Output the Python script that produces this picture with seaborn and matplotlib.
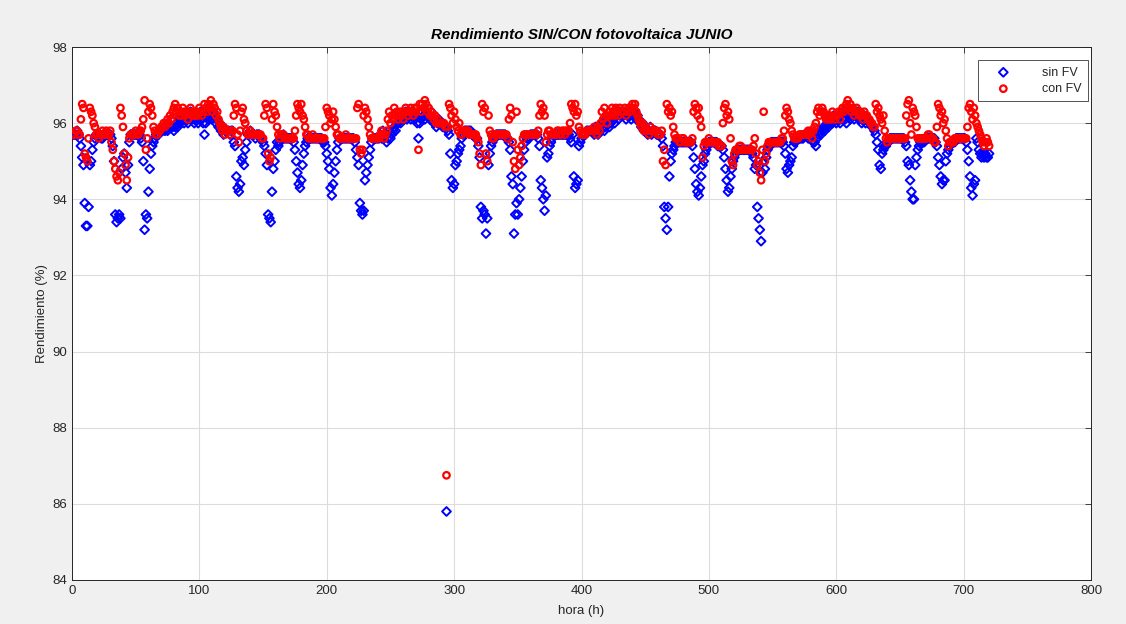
import numpy as np
import pandas as pd
import matplotlib
matplotlib.use("Agg")
import matplotlib.pyplot as plt
import seaborn as sns

# ------------------------------------------------------------
# Hourly efficiency values for June (30 days x 24 h)
# ------------------------------------------------------------
sin_fv_days = [
    [95.7,95.7,95.7,95.8,95.7,95.6, 95.4,95.1,94.9,93.9,93.3,93.3, 93.8,94.9,95.0,95.3,95.5, 95.6,95.7,95.7,95.7,95.7,95.6,95.6],
    [95.7,95.7,95.7,95.7,95.7,95.7, 95.6,95.4,95.0,93.6,93.4,93.5, 93.6,93.5,94.8,95.1,95.2, 94.7,94.3,94.9,95.5,95.7,95.7,95.7],
    [95.7,95.7,95.7,95.7,95.7,95.6, 95.5,95.0,93.2,93.6,93.5,94.2, 94.8,95.2,95.4,95.5,95.6, 95.7,95.7,95.7,95.8,95.8,95.8,95.9],
    [95.8,95.9,95.8,96.0,95.9,96.1, 95.9,95.8,95.9,96.0,95.9,96.1, 96.0,96.2,96.1,96.0,96.1, 96.2,96.0,96.2,96.3,96.1,96.2,96.0],
    [96.1,96.2,96.0,96.2,96.3,96.1, 96.0,95.7,96.0,96.2,96.1,96.3, 96.2,96.1,96.3,96.2,96.0, 96.1,95.9,96.0,95.8,95.9,95.7,95.8],
    [95.8,95.8,95.8,95.7,95.8,95.8, 95.5,95.4,94.6,94.3,94.2,94.4, 95.0,95.1,94.9,95.3,95.5, 95.7,95.7,95.8,95.7,95.7,95.7,95.6],
    [95.7,95.7,95.7,95.6,95.6,95.5, 95.4,95.2,94.9,93.6,93.5,93.4, 94.2,94.8,95.0,95.3,95.5, 95.4,95.5,95.6,95.6,95.7,95.6,95.6],
    [95.6,95.6,95.6,95.6,95.6,95.5, 95.3,95.0,94.7,94.4,94.3,94.5, 94.9,95.2,95.4,95.5,95.6, 95.6,95.6,95.6,95.6,95.6,95.6,95.6],
    [95.6,95.6,95.6,95.6,95.5,95.5, 95.4,95.2,95.0,94.8,94.3,94.1, 94.4,94.7,95.0,95.3,95.5, 95.6,95.6,95.6,95.6,95.6,95.6,95.6],
    [95.6,95.6,95.6,95.6,95.6,95.5, 95.3,95.1,94.9,93.9,93.7,93.6, 93.7,94.5,94.7,94.9,95.1, 95.3,95.5,95.6,95.6,95.6,95.6,95.6],
    [95.6,95.7,95.6,95.8,95.6,95.7, 95.5,95.6,95.8,95.6,95.7,95.8, 95.9,95.8,96.0,96.0,96.1, 96.0,96.2,96.1,96.2,96.3,96.1,96.2],
    [96.2,96.1,96.3,96.2,96.1,96.2, 96.0,95.6,96.0,96.1,96.3,96.2, 96.1,96.3,96.2,96.2,96.1, 96.3,96.1,96.0,96.1,95.9,96.0,96.1],
    [96.0,96.0,95.9,95.9,95.9,85.8, 95.8,95.7,95.2,94.5,94.3,94.4, 94.9,95.0,95.2,95.3,95.4, 95.6,95.7,95.8,95.8,95.8,95.8,95.8],
    [95.8,95.7,95.7,95.7,95.6,95.6, 95.4,95.1,93.8,93.5,93.7,93.6, 93.1,93.5,94.9,95.2,95.4, 95.5,95.6,95.6,95.7,95.7,95.7,95.7],
    [95.7,95.7,95.7,95.7,95.6,95.6, 95.5,95.3,94.6,94.4,93.1,93.6, 93.9,93.6,94.0,94.3,94.6, 95.0,95.3,95.5,95.6,95.6,95.6,95.7],
    [95.7,95.7,95.7,95.7,95.7,95.6, 95.4,94.5,94.3,94.0,93.7,94.1, 95.1,95.2,95.4,95.5,95.6, 95.7,95.7,95.7,95.7,95.7,95.7,95.7],
    [95.7,95.7,95.7,95.7,95.7,95.7, 95.6,95.5,95.7,94.6,94.3,94.4, 94.5,95.4,95.5,95.6,95.7, 95.7,95.7,95.8,95.8,95.8,95.8,95.8],
    [95.8,95.7,95.9,95.8,95.7,95.9, 95.8,96.0,95.9,95.8,95.9,96.0, 96.1,95.9,96.0,96.2,96.1, 96.0,96.2,96.3,96.1,96.2,96.3,96.2],
    [96.2,96.3,96.1,96.2,96.3,96.2, 96.1,96.3,96.2,96.3,96.1,96.2, 96.1,96.0,95.9,96.0,95.8, 95.9,95.8,95.7,95.8,95.9,95.7,95.8],
    [95.8,95.8,95.7,95.7,95.7,95.7, 95.6,95.4,93.8,93.5,93.2,93.8, 94.6,95.0,95.2,95.3,95.4, 95.5,95.5,95.5,95.5,95.5,95.5,95.5],
    [95.5,95.5,95.5,95.5,95.5,95.5, 95.4,95.1,94.8,94.4,94.2,94.1, 94.3,94.6,94.9,95.0,95.2, 95.3,95.4,95.5,95.5,95.5,95.5,95.5],
    [95.5,95.5,95.4,95.4,95.4,95.4, 95.3,95.1,94.8,94.5,94.2,94.3, 94.6,94.8,95.0,95.1,95.2, 95.3,95.3,95.3,95.3,95.3,95.3,95.3],
    [95.3,95.3,95.3,95.3,95.3,95.2, 95.1,94.8,94.9,93.8,93.5,93.2, 92.9,94.7,95.0,94.8,95.1, 95.3,95.4,95.4,95.5,95.5,95.5,95.5],
    [95.5,95.5,95.5,95.5,95.5,95.5, 95.4,95.2,94.8,94.7,94.9,95.0, 95.1,95.4,95.5,95.5,95.6, 95.6,95.6,95.6,95.6,95.6,95.7,95.7],
    [95.7,95.6,95.7,95.6,95.7,95.5, 95.5,95.4,95.6,95.7,95.8,95.7, 95.8,95.9,95.8,95.9,96.0, 95.9,96.0,96.1,96.0,96.2,96.1,96.0],
    [96.1,96.2,96.0,96.2,96.1,96.3, 96.1,96.0,96.2,96.3,96.1,96.2, 96.3,96.1,96.2,96.2,96.3, 96.1,96.2,96.0,96.1,96.2,96.0,96.1],
    [96.1,96.0,96.0,95.9,95.9,95.8, 95.7,95.5,95.3,94.9,94.8,95.2, 95.3,95.4,95.4,95.5,95.5, 95.6,95.6,95.6,95.6,95.6,95.6,95.6],
    [95.6,95.6,95.6,95.6,95.6,95.5, 95.4,95.0,94.9,94.5,94.2,94.0, 94.0,94.9,95.1,95.3,95.4, 95.5,95.5,95.5,95.5,95.6,95.6,95.6],
    [95.6,95.6,95.6,95.6,95.6,95.5, 95.4,95.1,94.9,94.6,94.4,94.5, 94.5,95.0,95.2,95.3,95.4, 95.5,95.5,95.5,95.5,95.6,95.6,95.6],
    [95.6,95.6,95.6,95.6,95.6,95.5, 95.3,95.0,94.6,94.3,94.1,94.4, 94.5,95.6,95.5,95.3,95.2, 95.1,95.2,95.1,95.2,95.1,95.1,95.2],
]

con_fv_days = [
    [95.7,95.7,95.8,95.8,95.7,95.7, 96.1,96.5,96.4,95.2,95.1,95.0, 95.6,96.4,96.3,96.2,96.0, 95.9,95.7,95.7,95.6,95.7,95.7,95.8],
    [95.7,95.7,95.8,95.7,95.7,95.8, 95.5,95.3,95.0,94.8,94.6,94.5, 94.7,96.4,96.2,95.9,95.2, 94.9,94.5,95.1,95.6,95.7,95.7,95.7],
    [95.7,95.8,95.7,95.7,95.8,95.8, 95.9,96.1,96.6,95.3,95.6,96.3, 96.5,96.4,96.2,95.9,95.8, 95.7,95.7,95.8,95.8,95.9,95.9,96.0],
    [95.9,96.0,96.1,96.0,96.2,96.1, 96.3,96.4,96.5,96.3,96.4,96.2, 96.3,96.2,96.4,96.3,96.2, 96.3,96.1,96.3,96.4,96.2,96.3,96.2],
    [96.2,96.3,96.2,96.4,96.3,96.2, 96.3,96.5,96.4,96.3,96.5,96.4, 96.6,96.3,96.5,96.4,96.2, 96.3,96.1,96.0,95.9,95.8,95.9,95.7],
    [95.8,95.8,95.8,95.7,95.8,95.8, 96.2,96.5,96.4,95.7,95.5,95.8, 96.3,96.4,96.1,96.0,95.8, 95.7,95.7,95.8,95.7,95.7,95.7,95.7],
    [95.7,95.7,95.7,95.7,95.6,95.6, 96.2,96.5,96.4,95.2,95.0,95.1, 96.1,96.5,96.3,96.2,95.9, 95.7,95.6,95.7,95.7,95.7,95.6,95.6],
    [95.6,95.6,95.6,95.6,95.6,95.6, 95.8,96.2,96.5,96.4,96.3,96.5, 96.2,96.1,95.9,95.7,95.7, 95.6,95.6,95.6,95.7,95.6,95.6,95.6],
    [95.6,95.6,95.6,95.6,95.6,95.6, 95.9,96.4,96.3,96.2,96.0,96.1, 96.3,96.1,95.9,95.7,95.7, 95.6,95.6,95.6,95.6,95.6,95.7,95.6],
    [95.6,95.6,95.6,95.6,95.6,95.6, 95.6,96.4,96.5,95.3,95.2,95.3, 96.2,96.4,96.3,96.1,95.9, 95.7,95.6,95.6,95.6,95.6,95.6,95.6],
    [95.6,95.7,95.8,95.7,95.6,95.7, 95.8,96.1,96.3,96.0,96.2,96.1, 96.4,96.2,96.3,96.1,96.2, 96.3,96.2,96.1,96.3,96.4,96.3,96.2],
    [96.3,96.4,96.3,96.2,96.4,96.3, 96.4,95.3,96.5,96.3,96.5,96.4, 96.6,96.5,96.3,96.4,96.2, 96.3,96.2,96.1,96.2,96.0,96.1,96.0],
    [96.0,96.0,96.0,96.0,95.9,86.75, 95.9,96.5,96.4,96.2,96.0,96.3, 96.1,95.9,95.8,96.0,95.7, 95.7,95.8,95.8,95.8,95.8,95.8,95.7],
    [95.7,95.7,95.7,95.7,95.7,95.6, 95.5,95.2,94.9,96.5,96.3,96.4, 95.2,95.0,96.2,95.8,95.7, 95.6,95.6,95.7,95.7,95.7,95.7,95.7],
    [95.7,95.7,95.7,95.7,95.7,95.6, 96.1,96.4,96.2,95.5,95.0,94.8, 96.3,95.3,94.9,95.1,95.4, 95.6,95.7,95.7,95.7,95.7,95.7,95.7],
    [95.7,95.7,95.7,95.7,95.7,95.8, 96.2,96.5,96.3,96.4,96.2,95.5, 95.7,95.8,95.8,95.7,95.7, 95.7,95.7,95.7,95.8,95.8,95.7,95.7],
    [95.8,95.8,95.7,95.8,95.8,95.8, 96.0,96.5,96.4,96.3,96.5,96.2, 96.3,95.9,95.8,95.7,95.7, 95.7,95.7,95.8,95.8,95.8,95.8,95.8],
    [95.8,95.9,95.8,95.7,95.9,95.8, 96.0,96.3,96.1,96.4,96.2,96.0, 96.2,96.3,96.2,96.4,96.3, 96.2,96.4,96.3,96.2,96.4,96.3,96.3],
    [96.3,96.4,96.2,96.3,96.4,96.3, 96.4,96.5,96.4,96.5,96.3,96.2, 96.1,96.0,95.9,96.0,95.8, 95.9,95.8,95.8,95.7,95.9,95.8,95.8],
    [95.8,95.8,95.8,95.7,95.7,95.7, 95.8,95.0,95.3,94.9,96.5,96.3, 96.4,96.2,96.3,95.9,95.7, 95.6,95.6,95.6,95.5,95.5,95.6,95.6],
    [95.5,95.5,95.5,95.5,95.5,95.5, 95.6,96.3,96.5,96.4,96.2,96.4, 96.1,95.9,95.1,95.4,95.5, 95.5,95.5,95.6,95.5,95.5,95.5,95.5],
    [95.5,95.5,95.5,95.4,95.4,95.4, 96.0,96.4,96.5,96.2,96.3,96.1, 95.6,95.0,94.9,95.2,95.3, 95.3,95.3,95.4,95.4,95.3,95.3,95.3],
    [95.3,95.3,95.3,95.3,95.3,95.3, 95.4,95.6,95.2,94.9,95.0,94.7, 94.5,95.3,96.3,95.0,95.2, 95.4,95.5,95.5,95.5,95.5,95.5,95.5],
    [95.5,95.5,95.5,95.5,95.6,95.6, 95.8,96.2,96.4,96.3,96.1,96.0, 95.8,95.7,95.6,95.6,95.6, 95.6,95.7,95.7,95.7,95.7,95.7,95.7],
    [95.7,95.8,95.7,95.8,95.6,95.8, 95.9,96.0,96.3,96.4,96.2,96.3, 96.4,96.3,96.2,96.1,96.2, 96.1,96.2,96.1,96.3,96.2,96.1,96.2],
    [96.2,96.3,96.1,96.3,96.4,96.3, 96.4,96.5,96.6,96.4,96.5,96.3, 96.4,96.2,96.3,96.4,96.3, 96.2,96.3,96.2,96.1,96.3,96.2,96.2],
    [96.1,96.1,96.0,96.0,95.9,95.9, 96.5,96.3,96.4,96.2,96.1,96.0, 96.2,95.8,95.6,95.5,95.6, 95.6,95.6,95.6,95.6,95.6,95.6,95.6],
    [95.6,95.6,95.6,95.6,95.6,95.6, 96.2,96.5,96.6,96.0,95.7,96.4, 96.3,96.2,95.9,95.6,95.6, 95.6,95.6,95.6,95.6,95.6,95.6,95.7],
    [95.7,95.6,95.6,95.6,95.5,95.5, 95.9,96.5,96.4,96.2,96.3,96.0, 96.1,95.8,95.6,95.4,95.5, 95.5,95.5,95.5,95.6,95.6,95.6,95.6],
    [95.6,95.6,95.6,95.6,95.6,95.6, 95.9,96.4,96.5,96.3,96.1,96.4, 96.2,96.0,95.9,95.8,95.7, 95.6,95.5,95.4,95.5,95.6,95.5,95.4],
]

sin_fv = np.concatenate(sin_fv_days)
con_fv = np.concatenate(con_fv_days)
hora = np.arange(1, len(sin_fv) + 1)

df = pd.DataFrame({"hora": hora, "sin FV": sin_fv, "con FV": con_fv})

x_ticks = list(range(0, 801, 100))
y_ticks = list(range(84, 99, 2))

# ------------------------------------------------------------
# Plot (MATLAB-like look)
# ------------------------------------------------------------
sns.set_style("white")
plt.rcParams["font.family"] = ["Liberation Sans", "DejaVu Sans"]

fig = plt.figure(figsize=(11.26, 6.24), dpi=100, facecolor="#f0f0f0")
ax = fig.add_axes([72 / 1126, 1 - 580 / 624, (1091 - 72) / 1126, (580 - 47) / 624])
ax.set_facecolor("white")

sns.scatterplot(data=df, x="hora", y="sin FV", ax=ax, marker="D", s=20,
                facecolors="none", edgecolor="#0000ff", linewidth=1.4,
                label="sin FV", zorder=3)
sns.scatterplot(data=df, x="hora", y="con FV", ax=ax, marker="o", s=22,
                facecolors="none", edgecolor="#ff0000", linewidth=1.6,
                label="con FV", zorder=4)

ax.set_xlim(0, 800)
ax.set_ylim(84, 98)
ax.set_xticks(x_ticks)
ax.set_yticks(y_ticks)
ax.grid(True, color="#dcdcdc", linewidth=0.8)
ax.set_axisbelow(True)
ax.tick_params(direction="in", length=4, top=True, right=True,
               labelsize=9.5, colors="#262626", width=0.6)
for sp in ax.spines.values():
    sp.set_color("#262626")
    sp.set_linewidth(0.7)

ax.set_title("Rendimiento SIN/CON fotovoltaica JUNIO", fontsize=11,
             fontweight="bold", fontstyle="italic", color="black", pad=6)
ax.set_xlabel("hora (h)", fontsize=9.5, color="#262626", labelpad=6)
ax.set_ylabel("Rendimiento (%)", fontsize=9.5, color="#262626", labelpad=3)

leg = ax.legend(loc="upper right", bbox_to_anchor=(0.997, 0.975), fontsize=9,
                frameon=True, fancybox=False, edgecolor="#262626",
                borderpad=0.5, handletextpad=1.6, labelspacing=0.35,
                handlelength=3.0, borderaxespad=0)
leg.get_frame().set_linewidth(0.7)
for h in leg.legend_handles:
    h.set_facecolor("none")

fig.savefig("out.png", dpi=100, facecolor=fig.get_facecolor())
